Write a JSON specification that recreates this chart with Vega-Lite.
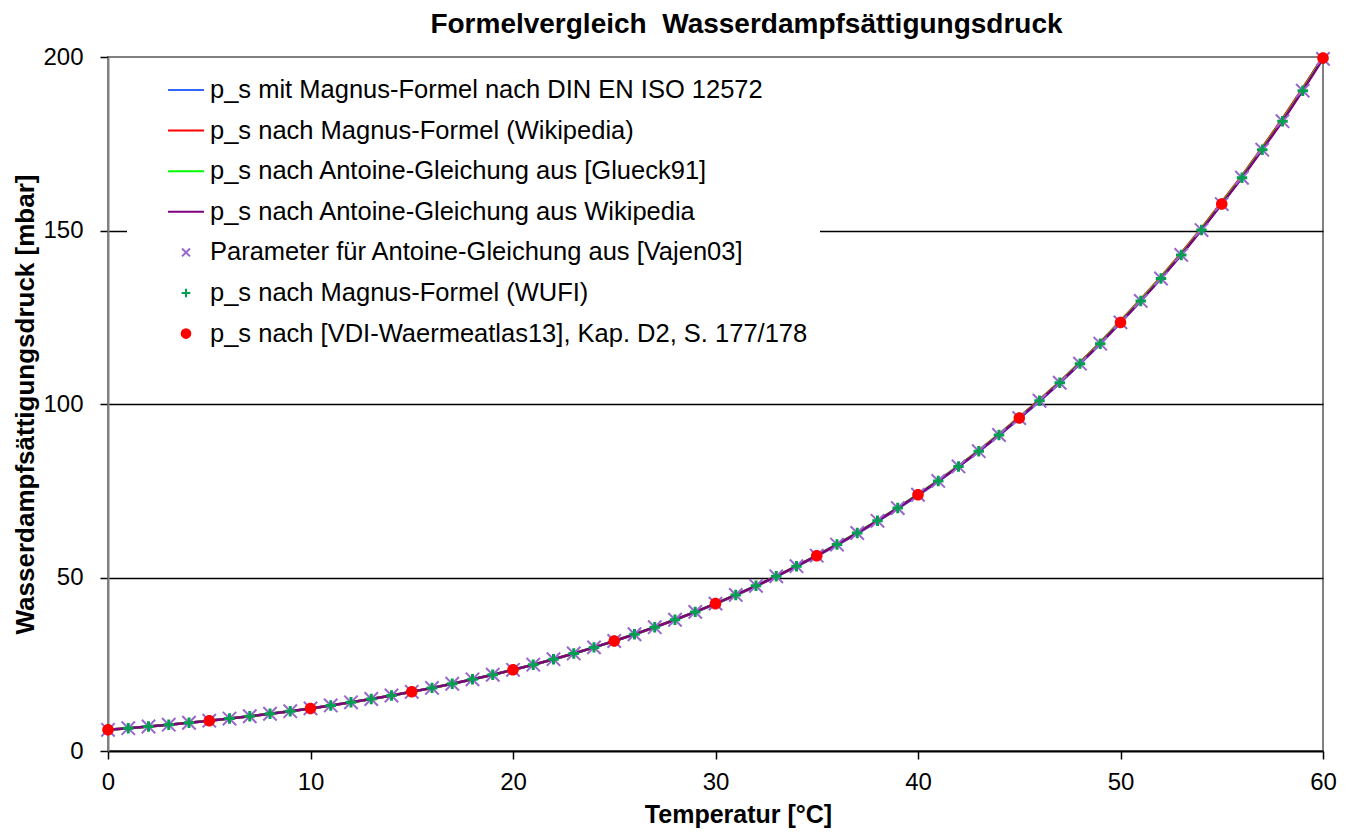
{
  "$schema": "https://vega.github.io/schema/vega-lite/v6.json",
  "width": 1215,
  "height": 694,
  "autosize": {"type": "none"},
  "padding": {"left": 108, "top": 57, "right": 29, "bottom": 81},
  "background": "white",
  "title": {"text": "Formelvergleich \u00a0Wasserdampfsättigungsdruck", "font": "Liberation Sans", "fontSize": 28, "fontWeight": "bold", "color": "black", "anchor": "middle", "dx": 31, "dy": 28, "offset": 12, "baseline": "alphabetic"},
  "config": {"view": {"stroke": "#808080", "strokeWidth": 2}, "font": "Liberation Sans"},
  "datasets": {
    "base": [
      {"t":0,"p":6.11},{"t":1,"p":6.57},{"t":2,"p":7.06},{"t":3,"p":7.58},{"t":4,"p":8.14},{"t":5,"p":8.73},{"t":6,"p":9.35},{"t":7,"p":10.02},{"t":8,"p":10.73},{"t":9,"p":11.48},
      {"t":10,"p":12.28},{"t":11,"p":13.13},{"t":12,"p":14.03},{"t":13,"p":14.98},{"t":14,"p":15.99},{"t":15,"p":17.06},{"t":16,"p":18.19},{"t":17,"p":19.38},{"t":18,"p":20.65},{"t":19,"p":21.98},
      {"t":20,"p":23.39},{"t":21,"p":24.88},{"t":22,"p":26.45},{"t":23,"p":28.11},{"t":24,"p":29.86},{"t":25,"p":31.70},{"t":26,"p":33.64},{"t":27,"p":35.68},{"t":28,"p":37.83},{"t":29,"p":40.09},
      {"t":30,"p":42.47},{"t":31,"p":44.97},{"t":32,"p":47.60},{"t":33,"p":50.35},{"t":34,"p":53.25},{"t":35,"p":56.29},{"t":36,"p":59.48},{"t":37,"p":62.82},{"t":38,"p":66.33},{"t":39,"p":70.00},
      {"t":40,"p":73.85},{"t":41,"p":77.82},{"t":42,"p":82.00},{"t":43,"p":86.41},{"t":44,"p":91.06},{"t":45,"p":95.95},{"t":46,"p":100.94},{"t":47,"p":106.12},{"t":48,"p":111.63},{"t":49,"p":117.39},
      {"t":50,"p":123.52},{"t":51,"p":129.69},{"t":52,"p":136.17},{"t":53,"p":142.97},{"t":54,"p":150.12},{"t":55,"p":157.63},{"t":56,"p":165.2},{"t":57,"p":173.3},{"t":58,"p":181.5},{"t":59,"p":190.3},{"t":60,"p":199.46}
    ],
    "blue": [
      {"t":0,"p":6.11},{"t":1,"p":6.57},{"t":2,"p":7.06},{"t":3,"p":7.58},{"t":4,"p":8.13},{"t":5,"p":8.72},{"t":6,"p":9.35},{"t":7,"p":10.01},{"t":8,"p":10.72},{"t":9,"p":11.47},
      {"t":10,"p":12.26},{"t":11,"p":13.11},{"t":12,"p":14.01},{"t":13,"p":14.96},{"t":14,"p":15.97},{"t":15,"p":17.04},{"t":16,"p":18.17},{"t":17,"p":19.36},{"t":18,"p":20.62},{"t":19,"p":21.95},
      {"t":20,"p":23.35},{"t":21,"p":24.84},{"t":22,"p":26.41},{"t":23,"p":28.07},{"t":24,"p":29.81},{"t":25,"p":31.65},{"t":26,"p":33.59},{"t":27,"p":35.63},{"t":28,"p":37.77},{"t":29,"p":40.02},
      {"t":30,"p":42.34},{"t":31,"p":44.85},{"t":32,"p":47.47},{"t":33,"p":50.22},{"t":34,"p":53.11},{"t":35,"p":56.14},{"t":36,"p":59.33},{"t":37,"p":62.66},{"t":38,"p":66.16},{"t":39,"p":69.83},
      {"t":40,"p":73.67},{"t":41,"p":77.68},{"t":42,"p":81.89},{"t":43,"p":86.29},{"t":44,"p":90.91},{"t":45,"p":95.80},{"t":46,"p":100.81},{"t":47,"p":106.05},{"t":48,"p":111.56},{"t":49,"p":117.33},
      {"t":50,"p":123.45},{"t":51,"p":129.72},{"t":52,"p":136.27},{"t":53,"p":143.11},{"t":54,"p":150.27},{"t":55,"p":157.73},{"t":56,"p":165.5},{"t":57,"p":173.6},{"t":58,"p":182.0},{"t":59,"p":190.8},{"t":60,"p":199.93}
    ],
    "red": [
      {"t":0,"p":6.11},{"t":1,"p":6.57},{"t":2,"p":7.06},{"t":3,"p":7.58},{"t":4,"p":8.13},{"t":5,"p":8.72},{"t":6,"p":9.35},{"t":7,"p":10.01},{"t":8,"p":10.72},{"t":9,"p":11.47},
      {"t":10,"p":12.27},{"t":11,"p":13.12},{"t":12,"p":14.02},{"t":13,"p":14.97},{"t":14,"p":15.98},{"t":15,"p":17.05},{"t":16,"p":18.18},{"t":17,"p":19.37},{"t":18,"p":20.64},{"t":19,"p":21.97},
      {"t":20,"p":23.38},{"t":21,"p":24.87},{"t":22,"p":26.44},{"t":23,"p":28.10},{"t":24,"p":29.85},{"t":25,"p":31.69},{"t":26,"p":33.63},{"t":27,"p":35.67},{"t":28,"p":37.82},{"t":29,"p":40.08},
      {"t":30,"p":42.46},{"t":31,"p":44.96},{"t":32,"p":47.59},{"t":33,"p":50.35},{"t":34,"p":53.25},{"t":35,"p":56.30},{"t":36,"p":59.50},{"t":37,"p":62.85},{"t":38,"p":66.37},{"t":39,"p":70.06},
      {"t":40,"p":73.93},{"t":41,"p":77.95},{"t":42,"p":82.16},{"t":43,"p":86.60},{"t":44,"p":91.28},{"t":45,"p":96.20},{"t":46,"p":101.22},{"t":47,"p":106.45},{"t":48,"p":111.98},{"t":49,"p":117.78},
      {"t":50,"p":123.94},{"t":51,"p":130.15},{"t":52,"p":136.66},{"t":53,"p":143.48},{"t":54,"p":150.66},{"t":55,"p":158.2},{"t":56,"p":165.8},{"t":57,"p":173.9},{"t":58,"p":182.2},{"t":59,"p":191.0},{"t":60,"p":200.0}
    ],
    "green": [
      {"t":0,"p":6.11},{"t":1,"p":6.57},{"t":2,"p":7.06},{"t":3,"p":7.58},{"t":4,"p":8.14},{"t":5,"p":8.73},{"t":6,"p":9.35},{"t":7,"p":10.02},{"t":8,"p":10.73},{"t":9,"p":11.48},
      {"t":10,"p":12.28},{"t":11,"p":13.13},{"t":12,"p":14.03},{"t":13,"p":14.98},{"t":14,"p":15.99},{"t":15,"p":17.06},{"t":16,"p":18.19},{"t":17,"p":19.38},{"t":18,"p":20.65},{"t":19,"p":21.98},
      {"t":20,"p":23.39},{"t":21,"p":24.88},{"t":22,"p":26.45},{"t":23,"p":28.11},{"t":24,"p":29.86},{"t":25,"p":31.71},{"t":26,"p":33.65},{"t":27,"p":35.69},{"t":28,"p":37.85},{"t":29,"p":40.11},
      {"t":30,"p":42.50},{"t":31,"p":45.00},{"t":32,"p":47.64},{"t":33,"p":50.40},{"t":34,"p":53.31},{"t":35,"p":56.36},{"t":36,"p":59.56},{"t":37,"p":62.91},{"t":38,"p":66.43},{"t":39,"p":70.11},
      {"t":40,"p":73.97},{"t":41,"p":77.95},{"t":42,"p":82.14},{"t":43,"p":86.56},{"t":44,"p":91.22},{"t":45,"p":96.12},{"t":46,"p":101.12},{"t":47,"p":106.31},{"t":48,"p":111.83},{"t":49,"p":117.60},
      {"t":50,"p":123.74},{"t":51,"p":129.92},{"t":52,"p":136.41},{"t":53,"p":143.22},{"t":54,"p":150.38},{"t":55,"p":157.9},{"t":56,"p":165.5},{"t":57,"p":173.6},{"t":58,"p":181.8},{"t":59,"p":190.6},{"t":60,"p":199.75}
    ],
    "vdi": [
      {"t":0,"p":6.11},{"t":5,"p":8.73},{"t":10,"p":12.28},{"t":15,"p":17.06},{"t":20,"p":23.39},{"t":25,"p":31.70},{"t":30,"p":42.47},
      {"t":35,"p":56.29},{"t":40,"p":73.85},{"t":45,"p":95.95},{"t":50,"p":123.52},{"t":55,"p":157.63},{"t":60,"p":199.7}
    ]
  },
  "encoding": {
    "x": {
      "field": "t", "type": "quantitative",
      "scale": {"domain": [0, 60], "nice": false, "zero": false},
      "axis": {
        "title": "Temperatur [°C]", "values": [0, 10, 20, 30, 40, 50, 60], "grid": false,
        "domainColor": "black", "domainWidth": 2, "tickColor": "black", "tickSize": 8, "tickWidth": 1.5,
        "labelFont": "Liberation Sans", "labelFontSize": 24, "labelColor": "black", "labelPadding": 11, "labelFlush": false,
        "titleFont": "Liberation Sans", "titleFontSize": 25, "titleFontWeight": "bold", "titleColor": "black",
        "titleX": 630, "titleY": 71, "titleBaseline": "alphabetic", "titleAlign": "center"
      }
    },
    "y": {
      "field": "p", "type": "quantitative",
      "scale": {"domain": [0, 200], "nice": false},
      "axis": {
        "title": "Wasserdampfsättigungsdruck [mbar]", "values": [0, 50, 100, 150, 200],
        "grid": true, "gridColor": "black", "gridWidth": 1.5,
        "gridOpacity": {"condition": {"test": "datum.value == 0 || datum.value == 200", "value": 0}, "value": 1},
        "domainColor": "#808080", "domainWidth": 2, "tickColor": "black", "tickSize": 8, "tickWidth": 1.5,
        "labelFont": "Liberation Sans", "labelFontSize": 24, "labelColor": "black", "labelPadding": 17, "labelFlush": false,
        "titleFont": "Liberation Sans", "titleFontSize": 26, "titleFontWeight": "bold", "titleColor": "black",
        "titleX": -75, "titleY": 347, "titleBaseline": "alphabetic", "titleAngle": -90, "titleAlign": "center"
      }
    }
  },
  "layer": [
    {
      "data": {"name": "blue"},
      "mark": {"type": "line", "strokeWidth": 2.5},
      "encoding": {
        "color": {
          "datum": "p_s mit Magnus-Formel nach DIN EN ISO 12572",
          "scale": {
            "domain": ["p_s mit Magnus-Formel nach DIN EN ISO 12572", "p_s nach Magnus-Formel (Wikipedia)", "p_s nach Antoine-Gleichung aus [Glueck91]", "p_s nach Antoine-Gleichung aus Wikipedia", "Parameter für Antoine-Gleichung aus [Vajen03]", "p_s nach Magnus-Formel (WUFI)", "p_s nach [VDI-Waermeatlas13], Kap. D2, S. 177/178"],
            "range": ["#3366FF", "#FF0000", "#00FF00", "#800080", "#9966CC", "#00A050", "#FF0000"]
          },
          "legend": {
            "orient": "none", "legendX": 19, "legendY": 2, "title": null, "fillColor": "white", "padding": 12,
            "labelFont": "Liberation Sans", "labelFontSize": 25.5, "labelColor": "black", "labelOffset": 5, "labelLimit": 900,
            "rowPadding": 7.6, "symbolSize": 1296, "symbolStrokeWidth": 2, "symbolOffset": 28,
            "encoding": {
              "symbols": {
                "update": {
                  "shape": {"scale": "shape", "field": "value"},
                  "fill": {"scale": "color", "field": "value"},
                  "stroke": {"scale": "color", "field": "value"},
                  "opacity": {"value": 1},
                  "fillOpacity": {"value": 1},
                  "strokeOpacity": {"value": 1}
                }
              }
            }
          }
        }
      }
    },
    {
      "data": {"name": "red"},
      "mark": {"type": "line", "strokeWidth": 2.5},
      "encoding": {"color": {"datum": "p_s nach Magnus-Formel (Wikipedia)"}}
    },
    {
      "data": {"name": "green"},
      "mark": {"type": "line", "strokeWidth": 2.5},
      "encoding": {"color": {"datum": "p_s nach Antoine-Gleichung aus [Glueck91]"}}
    },
    {
      "data": {"name": "base"},
      "mark": {"type": "line", "strokeWidth": 2.5},
      "encoding": {"color": {"datum": "p_s nach Antoine-Gleichung aus Wikipedia"}}
    },
    {
      "data": {"name": "base"},
      "mark": {"type": "point", "filled": false, "strokeWidth": 2, "size": 3700, "opacity": 1},
      "encoding": {
        "color": {"datum": "Parameter für Antoine-Gleichung aus [Vajen03]"},
        "shape": {
          "datum": "Parameter für Antoine-Gleichung aus [Vajen03]",
          "scale": {
            "domain": ["p_s mit Magnus-Formel nach DIN EN ISO 12572", "p_s nach Magnus-Formel (Wikipedia)", "p_s nach Antoine-Gleichung aus [Glueck91]", "p_s nach Antoine-Gleichung aus Wikipedia", "Parameter für Antoine-Gleichung aus [Vajen03]", "p_s nach Magnus-Formel (WUFI)", "p_s nach [VDI-Waermeatlas13], Kap. D2, S. 177/178"],
            "range": ["M-1,0L1,0", "M-1,0L1,0", "M-1,0L1,0", "M-1,0L1,0", "M-0.22,-0.22L0.22,0.22M-0.22,0.22L0.22,-0.22", "M-0.24,0L0.24,0M0,-0.24L0,0.24", "M-0.24,0A0.24,0.24,0,1,0,0.24,0A0.24,0.24,0,1,0,-0.24,0Z"]
          },
          "legend": null
        }
      }
    },
    {
      "data": {"name": "base"},
      "mark": {"type": "point", "filled": false, "strokeWidth": 3, "size": 1900, "opacity": 1},
      "encoding": {
        "color": {"datum": "p_s nach Magnus-Formel (WUFI)"},
        "shape": {"datum": "p_s nach Magnus-Formel (WUFI)", "legend": null}
      }
    },
    {
      "data": {"name": "vdi"},
      "mark": {"type": "point", "filled": true, "size": 2300, "opacity": 1},
      "encoding": {
        "color": {"datum": "p_s nach [VDI-Waermeatlas13], Kap. D2, S. 177/178"},
        "shape": {"datum": "p_s nach [VDI-Waermeatlas13], Kap. D2, S. 177/178", "legend": null}
      }
    }
  ]
}
